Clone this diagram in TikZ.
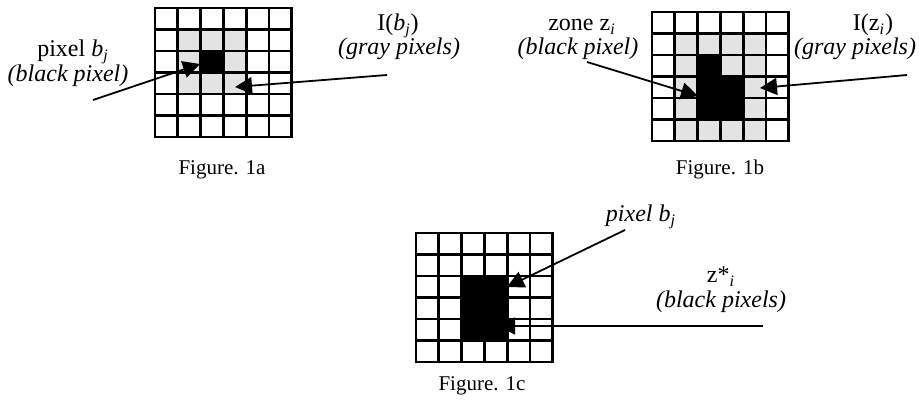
\documentclass[tikz,border=0pt]{standalone}
\usepackage{fontspec}
\setmainfont{Liberation Serif}
\usetikzlibrary{arrows.meta}
\tikzset{
    pixline/.style={line width=1.4pt},
    pointer/.style={line width=0.9pt, -{Triangle[length=8.5pt,width=8.5pt]}},
    lbl/.style={anchor=base, inner sep=0pt, font=\fontsize{12}{14}\selectfont},
    caption/.style={anchor=base, inner sep=0pt, font=\fontsize{10.5}{12}\selectfont},
    pixgray/.style={fill=black!11},
}
% 6x6 pixel grid, cells are unit squares inside the scope
\newcommand{\pixframe}{%
    \foreach \k in {0,...,6} {
        \draw[pixline] (\k,0) -- (\k,6);
        \draw[pixline] (0,\k) -- (6,\k);
    }
    \draw[pixline] (0,0) rectangle (6,6);
}
\begin{document}
\begin{tikzpicture}[x=0.5pt, y=-0.5pt]
    \useasboundingbox (0,0) rectangle (919,400);

    % Figure 1a
    \begin{scope}[shift={(155,8)}, x=11.4pt, y=-10.75pt]
        \foreach \c/\r in {1/1,2/1,3/1,1/2,3/2,1/3,2/3,3/3} {
            \fill[pixgray] (\c,\r) rectangle ++(1,1);
        }
        \fill (2,2) rectangle (3,3);
        \pixframe
    \end{scope}
    \node[lbl] (pixA) at (73,57) {pixel \textit{b}\textsubscript{\textit{j}}};
    \node[lbl] (blackA) at (68,82) {\textit{(black pixel)}};
    \node[lbl] (setA) at (398,31) {I(\textit{b}\textsubscript{\textit{j}})};
    \node[lbl] (grayA) at (399,55) {\textit{(gray pixels)}};
    \coordinate (pixAfrom) at (93,100);
    \coordinate (pixAto) at (200,64);
    \coordinate (setAfrom) at (387,75);
    \coordinate (setAto) at (235,87);
    \draw[pointer] (pixAfrom) -- (pixAto);
    \draw[pointer] (setAfrom) -- (setAto);
    \node[caption] (capA) at (222,175) {Figure. 1a};

    % Figure 1b
    \begin{scope}[shift={(652,12)}, x=11.4pt, y=-10.75pt]
        \foreach \c in {1,...,4} {
            \fill[pixgray] (\c,1) rectangle ++(1,1);
            \fill[pixgray] (\c,5) rectangle ++(1,1);
        }
        \foreach \r in {2,3,4} {
            \fill[pixgray] (1,\r) rectangle ++(1,1);
            \fill[pixgray] (4,\r) rectangle ++(1,1);
        }
        \fill[pixgray] (3,2) rectangle ++(1,1);
        \fill (2,2) -- (3,2) -- (3,3) -- (4,3) -- (4,5) -- (2,5) -- cycle;
        \pixframe
    \end{scope}
    \node[lbl] (zoneB) at (582,31) {zone z\textsubscript{\textit{i}}};
    \node[lbl] (blackB) at (578,55) {\textit{(black pixel)}};
    \node[lbl] (setB) at (873,31) {I(z\textsubscript{\textit{i}})};
    \node[lbl] (grayB) at (855,55) {\textit{(gray pixels)}};
    \coordinate (zoneBfrom) at (587,62);
    \coordinate (zoneBto) at (698,96);
    \coordinate (setBfrom) at (907,75);
    \coordinate (setBto) at (760,88);
    \draw[pointer] (zoneBfrom) -- (zoneBto);
    \draw[pointer] (setBfrom) -- (setBto);
    \node[caption] (capB) at (720,175) {Figure. 1b};

    % Figure 1c
    \begin{scope}[shift={(416,233)}, x=11.4pt, y=-10.75pt]
        \fill (2,2) rectangle (4,5);
        \pixframe
    \end{scope}
    \node[lbl] (pixC) at (641,222) {\textit{pixel b}\textsubscript{\textit{j}}};
    \node[lbl] (zoneC) at (721,283) {z*\textsubscript{\textit{i}}};
    \node[lbl] (blackC) at (721,307) {\textit{(black pixels)}};
    \coordinate (pixCfrom) at (625,230);
    \coordinate (pixCto) at (507,287);
    \coordinate (zoneCfrom) at (763,326);
    \coordinate (zoneCto) at (498,326);
    \draw[pointer] (pixCfrom) -- (pixCto);
    \draw[pointer] (zoneCfrom) -- (zoneCto);
    \node[caption] (capC) at (482,390) {Figure. 1c};
\end{tikzpicture}
\end{document}
